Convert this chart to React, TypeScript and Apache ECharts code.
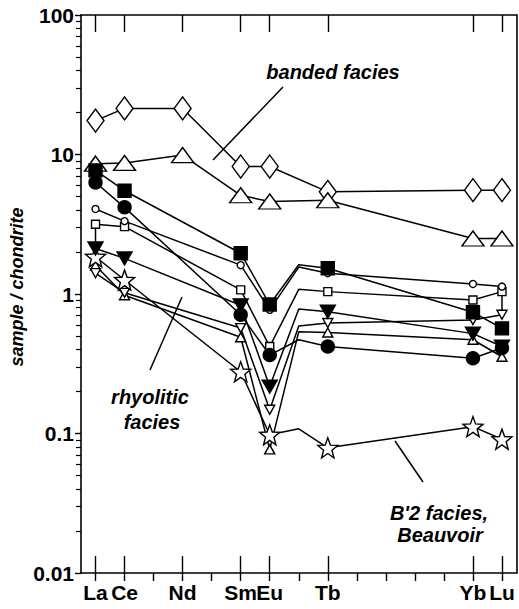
import React, { useEffect, useRef } from 'react';
import * as echarts from 'echarts';

// Rare-earth elements shown, with their atomic numbers (x position)
const ELEMENTS = ['La', 'Ce', 'Nd', 'Sm', 'Eu', 'Gd', 'Tb', 'Yb', 'Lu'];
const ATOMIC_NUMBERS = [57, 58, 60, 62, 63, 64, 65, 70, 71];
const LABELED_ELEMENTS = ['La', 'Ce', 'Nd', 'Sm', 'Eu', 'Tb', 'Yb', 'Lu'];
const ALL_ATOMIC_TICKS = [57, 58, 59, 60, 61, 62, 63, 64, 65, 66, 67, 68, 69, 70, 71];
const UNMARKED_ELEMENTS = ['Gd']; // line vertex, no marker

// y-axis tick labels
const Y_TICK_VALUES = [0.01, 0.1, 1, 10, 100];
const Y_TICK_LABELS = ['0.01', '0.1', '1', '10', '100'];
const Y_MINOR_MULTIPLIERS = [2, 3, 4, 5, 6, 7, 8, 9];
const Y_DECADES = [0.01, 0.1, 1, 10];

// sample / chondrite values, order: La Ce Nd Sm Eu Gd Tb Yb Lu
const bandedDiamond = [17.5, 21.4, 21.4, 8.2, 8.2, null, 5.4, 5.55, 5.55];
const bandedTriangle = [8.6, 8.7, 9.9, 5.1, 4.6, null, 4.7, 2.5, 2.5];
const rhyFilledSquare = [7.7, 5.5, null, 1.96, 0.84, 1.62, 1.53, 0.74, 0.567];
const rhyFilledCircle = [6.3, 4.18, null, 0.71, 0.365, 0.47, 0.42, 0.346, 0.41];
const rhyOpenCircle = [4.07, 3.33, null, 1.61, 0.77, 1.56, 1.41, 1.18, 1.13];
const rhyOpenSquare = [3.16, 3.04, null, 1.07, 0.42, 1.08, 1.04, 0.905, 1.04];
const rhyFilledDownTri = [2.12, 1.8, null, 0.83, 0.217, 0.78, 0.746, 0.52, 0.42];
const rhyOpenDownTri = [1.41, 1.02, null, 0.57, 0.148, 0.59, 0.62, 0.65, 0.71];
const rhyOpenUpTri = [1.6, 0.98, null, 0.49, 0.077, 0.537, 0.53, 0.47, 0.355];
const b2Star = [1.85, 1.26, null, 0.277, 0.098, 0.108, 0.079, 0.112, 0.091];

// vertical joins drawn in the original
const filledDownTriLead = { element: 'La', value: 3.16 };
const openDownTriTrail = { element: 'Lu', value: 1.13 };

const FONT = '"Liberation Sans", Arial, Helvetica, sans-serif';
const LW = 1.5;

function starPath(): string {
  const pts: string[] = [];
  for (let i = 0; i < 10; i++) {
    const r = i % 2 === 0 ? 50 : 21;
    const a = -Math.PI / 2 + (i * Math.PI) / 5;
    pts.push(`${(50 + r * Math.cos(a)).toFixed(2)} ${(50 + r * Math.sin(a)).toFixed(2)}`);
  }
  return 'path://M' + pts.join(' L') + ' Z';
}

function zOf(el: string): number {
  return ATOMIC_NUMBERS[ELEMENTS.indexOf(el)];
}

type Pt = { element: string; value: number };

function buildData(values: (number | null)[], lead?: Pt, trail?: Pt) {
  const data: any[] = [];
  if (lead) data.push({ value: [zOf(lead.element), lead.value], symbol: 'none' });
  values.forEach((v, i) => {
    if (v == null) return;
    const item: any = { value: [ATOMIC_NUMBERS[i], v] };
    if (UNMARKED_ELEMENTS.includes(ELEMENTS[i])) item.symbol = 'none';
    data.push(item);
  });
  if (trail) data.push({ value: [zOf(trail.element), trail.value], symbol: 'none' });
  return data;
}

export default function App() {
  const ref = useRef<HTMLDivElement>(null);

  useEffect(() => {
    document.body.style.margin = '0';
    if (!ref.current) return;
    const chart = echarts.init(ref.current, undefined, { renderer: 'svg' });
    const STAR = starPath();

    const mk = (
      name: string,
      values: (number | null)[],
      symbol: string,
      size: number | number[],
      filled: boolean,
      rotate = 0,
      lead?: Pt,
      trail?: Pt
    ) => ({
      type: 'line',
      name,
      data: buildData(values, lead, trail),
      xAxisIndex: 0,
      yAxisIndex: 0,
      symbol,
      symbolSize: size,
      symbolRotate: rotate,
      showAllSymbol: true,
      silent: true,
      lineStyle: { color: '#000', width: LW },
      itemStyle: { color: filled ? '#000' : '#fff', borderColor: '#000', borderWidth: 1.4, opacity: 1 },
      emphasis: { disabled: true },
    });

    const labeledZ = LABELED_ELEMENTS.map(zOf);
    const minorY: number[] = [];
    Y_DECADES.forEach((d) => Y_MINOR_MULTIPLIERS.forEach((m) => minorY.push(Math.log10(d * m))));

    const textStyle = (size: number) => ({
      font: `italic bold ${size}px ${FONT}`,
      fill: '#000',
      align: 'center',
      verticalAlign: 'middle',
    });
    const lineShape = (x1: number, y1: number, x2: number, y2: number) => ({
      type: 'line',
      shape: { x1, y1, x2, y2 },
      style: { stroke: '#000', lineWidth: LW },
      silent: true,
    });

    chart.setOption({
      animation: false,
      backgroundColor: '#fff',
      grid: { left: 81, right: 2.5, top: 15, bottom: 36, containLabel: false },
      xAxis: [
        {
          type: 'value',
          position: 'bottom',
          min: 56.5,
          max: 71.5,
          axisLine: { show: true, onZero: false, lineStyle: { color: '#000', width: 1.6 } },
          axisTick: { show: true, inside: true, length: 17, customValues: labeledZ, lineStyle: { color: '#000', width: 1.4 } },
          axisLabel: {
            show: true,
            customValues: labeledZ,
            formatter: (v: number) => {
              const i = ATOMIC_NUMBERS.indexOf(Math.round(v));
              return i >= 0 && LABELED_ELEMENTS.includes(ELEMENTS[i]) ? ELEMENTS[i] : '';
            },
            fontSize: 21,
            fontWeight: 'bold',
            fontFamily: FONT,
            color: '#000',
            margin: 9,
          },
          splitLine: { show: false },
        },
        {
          type: 'value',
          position: 'bottom',
          min: 56.5,
          max: 71.5,
          axisLine: { show: false, onZero: false },
          axisTick: { show: true, inside: false, length: 8, customValues: ALL_ATOMIC_TICKS, lineStyle: { color: '#000', width: 1.4 } },
          axisLabel: { show: false },
          splitLine: { show: false },
        },
        {
          type: 'value',
          position: 'top',
          min: 56.5,
          max: 71.5,
          axisLine: { show: true, onZero: false, lineStyle: { color: '#000', width: 1.6 } },
          axisTick: { show: true, inside: true, length: 17, customValues: labeledZ, lineStyle: { color: '#000', width: 1.4 } },
          axisLabel: { show: false },
          splitLine: { show: false },
        },
      ],
      yAxis: [
        {
          type: 'log',
          logBase: 10,
          min: 0.01,
          max: 100,
          position: 'left',
          axisLine: { show: true, onZero: false, lineStyle: { color: '#000', width: 1.6 } },
          axisTick: { show: true, inside: false, length: 6, lineStyle: { color: '#000', width: 1.4 } },
          axisLabel: {
            formatter: (v: number) => {
              const i = Y_TICK_VALUES.findIndex((t) => Math.abs(Math.log10(t) - Math.log10(v)) < 1e-6);
              return i >= 0 ? Y_TICK_LABELS[i] : '';
            },
            fontSize: 21,
            fontWeight: 'bold',
            fontFamily: FONT,
            color: '#000',
            margin: 7,
          },
          splitLine: { show: false },
        },
        {
          type: 'value',
          min: -2,
          max: 2,
          position: 'left',
          axisLine: { show: false, onZero: false },
          axisTick: { show: true, inside: false, length: 5, customValues: minorY, lineStyle: { color: '#000', width: 1.2 } },
          axisLabel: { show: false },
          splitLine: { show: false },
        },
        {
          type: 'value',
          min: -2,
          max: 2,
          position: 'right',
          axisLine: { show: true, onZero: false, lineStyle: { color: '#000', width: 1.6 } },
          axisTick: { show: false },
          axisLabel: { show: false },
          splitLine: { show: false },
        },
      ],
      series: [
        mk('banded diamond', bandedDiamond, 'diamond', [17, 23], false),
        mk('banded triangle', bandedTriangle, 'triangle', [22, 15], false),
        mk('rhyolitic open up triangle', rhyOpenUpTri, 'triangle', [10, 9], false),
        mk('rhyolitic open down triangle', rhyOpenDownTri, 'triangle', [10, 9], false, 180, undefined, openDownTriTrail),
        mk("B'2 star", b2Star, STAR, 20, false),
        mk('rhyolitic filled down triangle', rhyFilledDownTri, 'triangle', [15, 13], true, 180, filledDownTriLead),
        mk('rhyolitic open square', rhyOpenSquare, 'rect', 8, false),
        mk('rhyolitic filled circle', rhyFilledCircle, 'circle', 13, true),
        mk('rhyolitic open circle', rhyOpenCircle, 'circle', 7, false),
        mk('rhyolitic filled square', rhyFilledSquare, 'rect', 13, true),
      ],
      graphic: [
        { type: 'text', x: 333, y: 72, style: { text: 'banded facies', ...textStyle(20) }, silent: true },
        lineShape(283, 87, 213, 160),
        { type: 'text', x: 150, y: 397, style: { text: 'rhyolitic', ...textStyle(20) }, silent: true },
        { type: 'text', x: 152, y: 422, style: { text: 'facies', ...textStyle(20) }, silent: true },
        lineShape(182, 297, 150, 370),
        { type: 'text', x: 439, y: 513, style: { text: "B'2 facies,", ...textStyle(20) }, silent: true },
        { type: 'text', x: 440, y: 535, style: { text: 'Beauvoir', ...textStyle(20) }, silent: true },
        lineShape(395, 441, 423, 482),
        {
          type: 'text',
          x: 17,
          y: 287,
          rotation: Math.PI / 2,
          style: { text: 'sample / chondrite', ...textStyle(18) },
          silent: true,
        },
      ],
    });

    return () => chart.dispose();
  }, []);

  return <div ref={ref} style={{ width: 519, height: 609 }} />;
}
